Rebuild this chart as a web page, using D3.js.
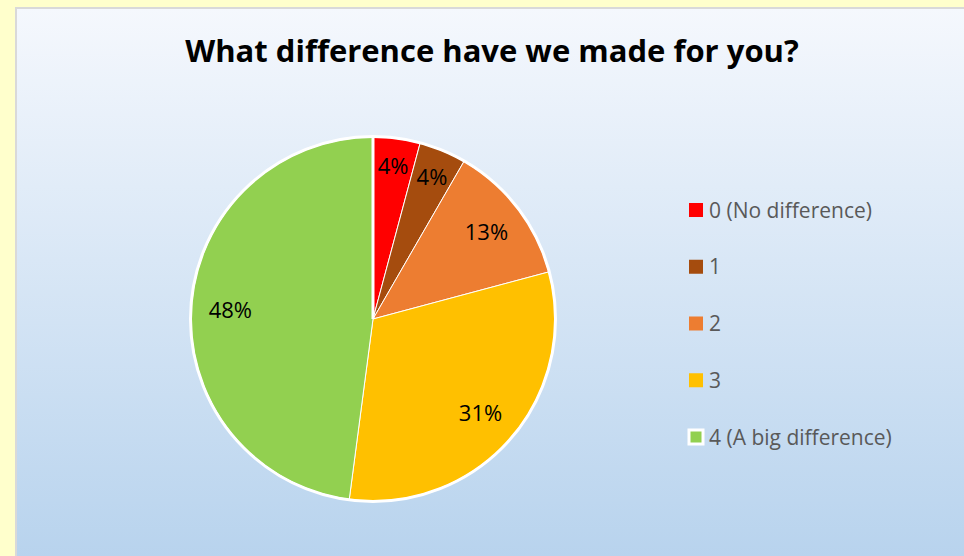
<!DOCTYPE html>
<html>
<head>
<meta charset="utf-8">
<script src="https://cdn.jsdelivr.net/npm/d3@7"></script>
<style>
  html, body { margin: 0; padding: 0; background: #FFFFCC; }
  svg { display: block; }
</style>
</head>
<body>
<div class="chart"></div>
<script>
const categories = ["0 (No difference)", "1", "2", "3", "4 (A big difference)"]
const counts = [2, 2, 6, 15, 23]
const colors = ["#FF0000", "#A54C0E", "#ED7D31", "#FFC000", "#92D050"]
const title = "What difference have we made for you?"

const width = 964
const height = 556
const font = "'Open Sans', 'Noto Sans', sans-serif"

const svg = d3.select(".chart").append("svg").attr("width", width).attr("height", height)

// background gradient of the plot box
const grad = svg.append("defs").append("linearGradient")
  .attr("id", "bg").attr("x1", 0).attr("y1", 0).attr("x2", 0).attr("y2", 1)
grad.append("stop").attr("offset", "0%").attr("stop-color", "#F5F8FD")
grad.append("stop").attr("offset", "100%").attr("stop-color", "#B6D2ED")

svg.append("rect")
  .attr("x", 0).attr("y", 0).attr("width", width).attr("height", height)
  .attr("fill", "#FFFFCC")

svg.append("rect")
  .attr("x", 16).attr("y", 8).attr("width", width + 10).attr("height", height + 10)
  .attr("fill", "url(#bg)")
  .attr("stroke", "#D9D9D9").attr("stroke-width", 2)

svg.append("text")
  .attr("x", 492).attr("y", 62)
  .attr("text-anchor", "middle")
  .style("font-family", font)
  .style("font-weight", "bold")
  .style("font-size", "31px")
  .attr("fill", "#000")
  .text(title)

const cx = 373, cy = 319, radius = 182
const total = d3.sum(counts)

const pie = d3.pie().sort(null).value(d => d)
const arcs = pie(counts)
const arc = d3.arc().innerRadius(0).outerRadius(radius)

const g = svg.append("g").attr("transform", `translate(${cx}, ${cy})`)

g.selectAll("path")
  .data(arcs)
  .enter().append("path")
  .attr("d", arc)
  .attr("fill", (d, i) => colors[i])
  .attr("stroke", "#fff")
  .attr("stroke-width", 1)

// white outer ring
g.append("circle").attr("r", radius + 0.5).attr("fill", "none").attr("stroke", "#fff").attr("stroke-width", 3)
// white edge along the start of the pie
g.append("path").attr("d", d3.arc().innerRadius(0).outerRadius(radius)({ startAngle: 0, endAngle: 0 }))
  .attr("stroke", "#fff").attr("stroke-width", 3)

const labelArc = d => {
  const r = d.value / total < 0.05 ? 154 : 143
  return d3.arc().innerRadius(r).outerRadius(r).centroid(d)
}

g.selectAll("text.lbl")
  .data(arcs)
  .enter().append("text")
  .attr("class", "lbl")
  .attr("transform", d => `translate(${labelArc(d)})`)
  .attr("text-anchor", "middle")
  .attr("dy", "0.36em")
  .style("font-family", font)
  .style("font-size", "22px")
  .attr("fill", "#000")
  .text(d => `${Math.round(d.value / total * 100)}%`)

// legend
const legendY = d3.scalePoint().domain(categories).range([210, 437])

const legend = svg.append("g")
const item = legend.selectAll("g")
  .data(categories)
  .enter().append("g")
  .attr("transform", d => `translate(689, ${legendY(d)})`)

item.append("rect")
  .attr("x", 0).attr("y", -7).attr("width", 14).attr("height", 14)
  .attr("fill", (d, i) => colors[i])
  .attr("stroke", (d, i) => i === categories.length - 1 ? "#fff" : "none")
  .attr("stroke-width", 3)

item.append("text")
  .attr("x", 20).attr("dy", "0.36em")
  .style("font-family", font)
  .style("font-size", "21px")
  .attr("fill", "#595959")
  .text(d => d)
</script>
</body>
</html>
